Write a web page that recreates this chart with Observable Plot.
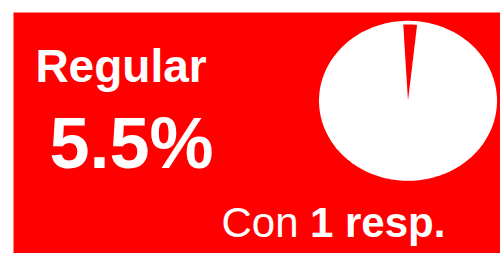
<!DOCTYPE html>
<html>
<head>
<meta charset="utf-8">
<script src="https://cdn.jsdelivr.net/npm/d3@7"></script>
<script src="https://cdn.jsdelivr.net/npm/@observablehq/plot@0.6"></script>
<style>
  html, body { margin: 0; padding: 0; background: #ffffff; }
  svg { display: block; }
</style>
</head>
<body>
<div id="chart"></div>
<script>
// ---- data ----
const category = "Regular";
const percentLabel = "5.5%";
const countPrefix = "Con";
const countLabel = "1 resp.";
const sliceNames = ["Regular", "Resto"];
const sliceShares = [2.6, 97.4]; // share of the pie

// ---- pie geometry (derived from data) ----
const startDeg = -3.2;
const total = d3.sum(sliceShares);
function arcPoints(a0, a1, r, withCenter, steps = 60) {
  const pts = [];
  if (withCenter) pts.push({x: 0, y: 0});
  for (let i = 0; i <= steps; i++) {
    const a = (a0 + (a1 - a0) * i / steps) * Math.PI / 180;
    pts.push({x: Math.sin(a) * r, y: Math.cos(a) * r});
  }
  return pts;
}
const wholePie = arcPoints(startDeg, startDeg + 360, 1, false, 180);
const a0 = startDeg;
const a1 = startDeg + sliceShares[0] / total * 360;
const redSlice = arcPoints(a0, a1, 0.955, true, 12);

const red = "#ff0000";
const font = "'Liberation Sans', Arial, Helvetica, sans-serif";

const chart = Plot.plot({
  width: 500,
  height: 253,
  margin: 0,
  x: {domain: [-1, 1], range: [318.5, 496.5], axis: null},
  y: {domain: [-1, 1], range: [180.3, 20.3], axis: null},
  style: {background: "#ffffff", fontFamily: font},
  marks: [
    Plot.frame({fill: red, stroke: "none", insetLeft: 13, insetTop: 12}),
    Plot.line(wholePie, {x: "x", y: "y", fill: "#ffffff", stroke: "none", curve: "linear-closed"}),
    Plot.line(redSlice, {x: "x", y: "y", fill: red, stroke: "none", curve: "linear-closed"}),
    Plot.text([category], {frameAnchor: "top-left", dx: 120.5, dy: 81.7, text: d => d,
      textAnchor: "middle", lineAnchor: "bottom", fontSize: 46, fontWeight: "bold", fill: "#ffffff", fontFamily: font}),
    Plot.text([percentLabel], {frameAnchor: "top-left", dx: 131, dy: 167.5, text: d => d,
      textAnchor: "middle", lineAnchor: "bottom", fontSize: 72, fontWeight: "bold", fill: "#ffffff", fontFamily: font}),
    Plot.text([countPrefix], {frameAnchor: "top-left", dx: 221, dy: 236.7, text: d => d,
      textAnchor: "start", lineAnchor: "bottom", fontSize: 42, fontWeight: "normal", fill: "#ffffff", fontFamily: font}),
    Plot.text([countLabel], {frameAnchor: "top-left", dx: 309.5, dy: 236.7, text: d => d,
      textAnchor: "start", lineAnchor: "bottom", fontSize: 42, fontWeight: "bold", fill: "#ffffff", fontFamily: font})
  ]
});
document.getElementById("chart").appendChild(chart);
</script>
</body>
</html>
